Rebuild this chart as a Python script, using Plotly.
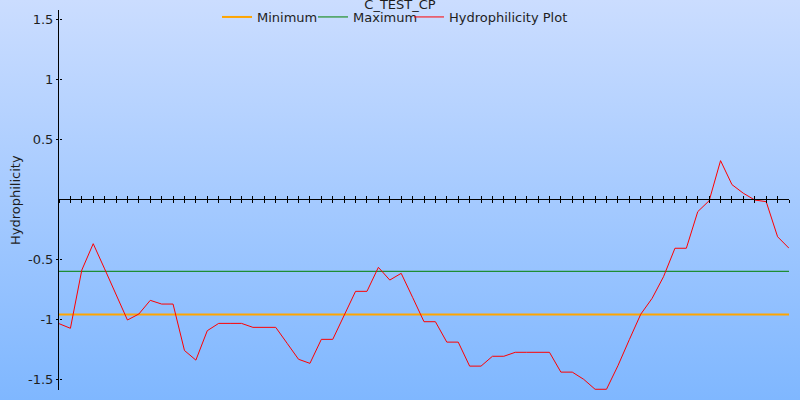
import base64
import plotly.graph_objects as go

# ---- data ----
positions = list(range(65))
hydrophilicity = [-1.036, -1.075, -0.59, -0.37, -0.58, -0.80, -1.006, -0.956, -0.842, -0.873,
                  -0.873, -1.26, -1.34, -1.095, -1.034, -1.034, -1.034, -1.067, -1.067, -1.067,
                  -1.2, -1.333, -1.367, -1.167, -1.167, -0.97, -0.767, -0.767, -0.567, -0.673,
                  -0.617, -0.817, -1.02, -1.02, -1.19, -1.19, -1.39, -1.39, -1.308, -1.308,
                  -1.275, -1.275, -1.275, -1.275, -1.44, -1.44, -1.5, -1.583, -1.583, -1.387,
                  -1.17, -0.958, -0.825, -0.645, -0.408, -0.408, -0.103, -0.012, 0.322, 0.122,
                  0.05, -0.006, -0.02, -0.312, -0.408]
minimum_value = -0.96
maximum_value = -0.6
ytick_vals = [1.5, 1, 0.5, -0.5, -1, -1.5]
ytick_text = ["1.5", "1", "0.5", "-0.5", "-1", "-1.5"]
title_text = "C_TEST_CP"
y_label = "Hydrophilicity"

# ---- layout geometry ----
W, H = 800, 400
ML, MR, MT, MB = 59, 11, 10, 10
YR = [-1.589, 1.577]
XR = [positions[0], positions[-1]]
zero_pos = (0 - YR[0]) / (YR[1] - YR[0])
PW, PH = W - ML - MR, H - MT - MB

FONT = "DejaVu Sans"
TXT = "#1e1e1e"

svg = ('<svg xmlns="http://www.w3.org/2000/svg" width="800" height="400" preserveAspectRatio="none">'
       '<defs><linearGradient id="g" x1="0" y1="0" x2="0" y2="1">'
       '<stop offset="0" stop-color="#CBDDFF"/><stop offset="1" stop-color="#7FB7FF"/>'
       '</linearGradient></defs><rect width="800" height="400" fill="url(#g)"/></svg>')
src = "data:image/svg+xml;base64," + base64.b64encode(svg.encode()).decode()

fig = go.Figure()
fig.add_trace(go.Scatter(x=XR, y=[minimum_value] * 2, mode="lines", name="Minimum",
                         line=dict(color="#FFA500", width=2)))
fig.add_trace(go.Scatter(x=XR, y=[maximum_value] * 2, mode="lines", name="Maximum",
                         line=dict(color="#008000", width=1)))
fig.add_trace(go.Scatter(x=positions, y=hydrophilicity, mode="lines", name="Hydrophilicity Plot",
                         line=dict(color="#FF0000", width=1)))
# empty helper trace: activates overlay axes (crossing tick marks) and pads the legend width
fig.add_trace(go.Scatter(x=[None], y=[None], xaxis="x2", yaxis="y2", name=" ",
                         mode="lines", line=dict(color="rgba(0,0,0,0)", width=0),
                         showlegend=True, hoverinfo="skip"))

fig.update_layout(
    template="none",
    width=W, height=H,
    margin=dict(l=ML, r=MR, t=MT, b=MB, autoexpand=False),
    paper_bgcolor="#A5CAFF",
    plot_bgcolor="rgba(0,0,0,0)",
    font=dict(family=FONT, size=13, color=TXT),
    title=dict(text=title_text, x=0.5, xref="container", xanchor="center",
               y=1 - 9 / H, yref="container", yanchor="bottom", pad=dict(t=0, b=0, l=0, r=0),
               font=dict(size=13, color=TXT)),
    showlegend=True,
    legend=dict(orientation="h", x=(217 - ML) / PW, xref="paper", xanchor="left",
                y=(H - MB - 17) / PH, yref="paper", yanchor="middle",
                entrywidth=51, entrywidthmode="pixels", traceorder="normal",
                bgcolor="rgba(0,0,0,0)", borderwidth=0, font=dict(size=13, color=TXT)),
    xaxis=dict(range=XR, anchor="free", position=zero_pos, showgrid=False, zeroline=False,
               automargin=False,
               showline=True, linecolor="black", linewidth=1,
               ticks="outside", ticklen=3, tickcolor="black", tickwidth=1,
               tick0=0, dtick=1, showticklabels=False),
    xaxis2=dict(range=XR, overlaying="x", anchor="free", position=zero_pos, showgrid=False,
                automargin=False,
                zeroline=False, showline=False, ticks="inside", ticklen=3, tickcolor="black",
                tickwidth=1, tick0=0, dtick=1, showticklabels=False),
    yaxis=dict(range=YR, showgrid=False, zeroline=False, showline=True, linecolor="black",
               automargin=False,
               linewidth=1, ticks="outside", ticklen=2, tickcolor="black",
               tickmode="array", tickvals=ytick_vals, ticktext=ytick_text,
               tickfont=dict(size=13, color=TXT)),
    yaxis2=dict(range=YR, overlaying="y", anchor="free", position=0, showgrid=False,
                automargin=False,
                zeroline=False, showline=False, ticks="inside", ticklen=2, tickcolor="black",
                tickmode="array", tickvals=ytick_vals, showticklabels=False),
    images=[dict(source=src, xref="paper", yref="paper", x=-ML / PW, y=1 + MT / PH,
                 sizex=W / PW, sizey=H / PH, xanchor="left", yanchor="top",
                 sizing="stretch", layer="below")],
    annotations=[dict(text=y_label, xref="paper", yref="paper", x=(15 - ML) / PW, y=0.5,
                      xanchor="center", yanchor="middle", textangle=-90, showarrow=False,
                      font=dict(size=13, color=TXT))],
)

fig.write_html("out.html", config={"displayModeBar": False},
               post_script="document.body.style.margin='0';document.body.style.padding='0';")
